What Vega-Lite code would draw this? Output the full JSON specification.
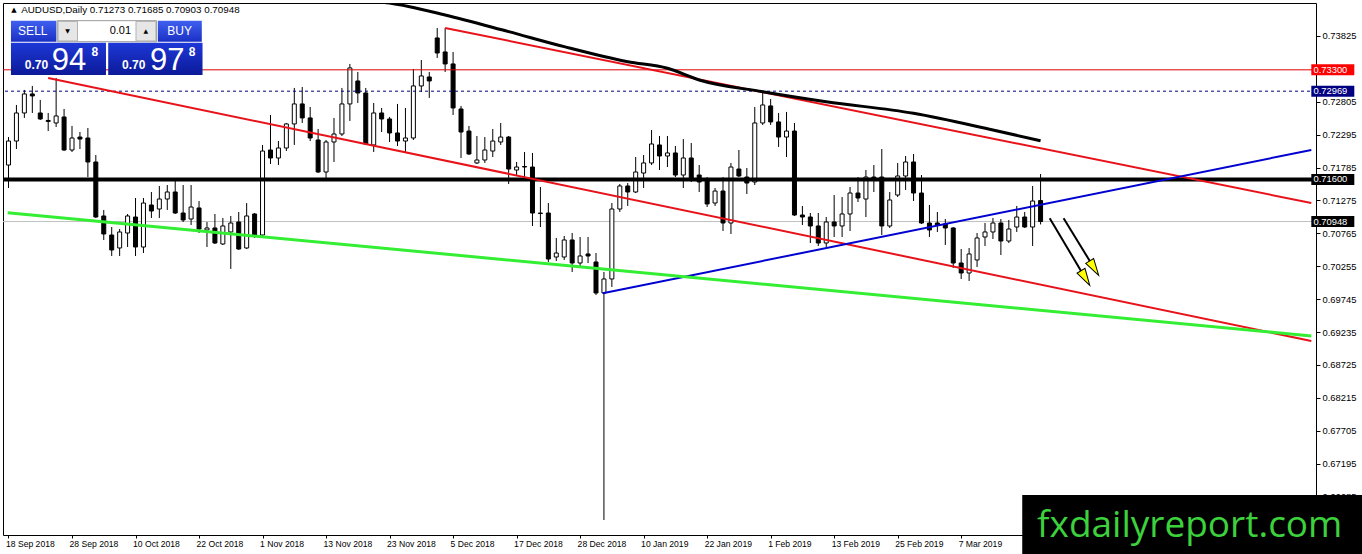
{
  "$schema": "https://vega.github.io/schema/vega-lite/v6.json",
  "description": "AUDUSD daily candles with trend lines, MT4 style",
  "width": 1313,
  "height": 532,
  "autosize": {"type": "none"},
  "padding": {"left": 3, "top": 3, "right": 46, "bottom": 19},
  "background": "white",
  "config": {"view": {"stroke": "black", "strokeWidth": 1}},
  "datasets": {
    "candles": [
      {"i":0,"o":0.71824,"h":0.72258,"l":0.71468,"c":0.72196},
      {"i":1,"o":0.72196,"h":0.72755,"l":0.72072,"c":0.72631},
      {"i":2,"o":0.72631,"h":0.72988,"l":0.72554,"c":0.72926},
      {"i":3,"o":0.72926,"h":0.73050,"l":0.72631,"c":0.72895},
      {"i":4,"o":0.72631,"h":0.72833,"l":0.72523,"c":0.72538},
      {"i":5,"o":0.72515,"h":0.72631,"l":0.72351,"c":0.72500},
      {"i":6,"o":0.72476,"h":0.73174,"l":0.72414,"c":0.72585},
      {"i":7,"o":0.72569,"h":0.72693,"l":0.72041,"c":0.72057},
      {"i":8,"o":0.72057,"h":0.72430,"l":0.72026,"c":0.72243},
      {"i":9,"o":0.72258,"h":0.72336,"l":0.72072,"c":0.72227},
      {"i":10,"o":0.72243,"h":0.72398,"l":0.71638,"c":0.71871},
      {"i":11,"o":0.71871,"h":0.71979,"l":0.71003,"c":0.71018},
      {"i":12,"o":0.71034,"h":0.71127,"l":0.70662,"c":0.70755},
      {"i":13,"o":0.70739,"h":0.70863,"l":0.70414,"c":0.70507},
      {"i":14,"o":0.70538,"h":0.70832,"l":0.70414,"c":0.70786},
      {"i":15,"o":0.70770,"h":0.71065,"l":0.70553,"c":0.71034},
      {"i":16,"o":0.71018,"h":0.71313,"l":0.70414,"c":0.70553},
      {"i":17,"o":0.70553,"h":0.71313,"l":0.70460,"c":0.71235},
      {"i":18,"o":0.71204,"h":0.71406,"l":0.71003,"c":0.71111},
      {"i":19,"o":0.71142,"h":0.71499,"l":0.71003,"c":0.71297},
      {"i":20,"o":0.71297,"h":0.71514,"l":0.71127,"c":0.71406},
      {"i":21,"o":0.71406,"h":0.71592,"l":0.71065,"c":0.71080},
      {"i":22,"o":0.71080,"h":0.71514,"l":0.70941,"c":0.70972},
      {"i":23,"o":0.70987,"h":0.71514,"l":0.70894,"c":0.71173},
      {"i":24,"o":0.71158,"h":0.71266,"l":0.70770,"c":0.70832},
      {"i":25,"o":0.70817,"h":0.70941,"l":0.70553,"c":0.70848},
      {"i":26,"o":0.70848,"h":0.71065,"l":0.70600,"c":0.70615},
      {"i":27,"o":0.70600,"h":0.71003,"l":0.70584,"c":0.70879},
      {"i":28,"o":0.70786,"h":0.71034,"l":0.70213,"c":0.70925},
      {"i":29,"o":0.70941,"h":0.71096,"l":0.70507,"c":0.70522},
      {"i":30,"o":0.70538,"h":0.71235,"l":0.70522,"c":0.71034},
      {"i":31,"o":0.71065,"h":0.71080,"l":0.70693,"c":0.70739},
      {"i":32,"o":0.70739,"h":0.72135,"l":0.70708,"c":0.72041},
      {"i":33,"o":0.72057,"h":0.72600,"l":0.71840,"c":0.71933},
      {"i":34,"o":0.71933,"h":0.72196,"l":0.71824,"c":0.72088},
      {"i":35,"o":0.72088,"h":0.72476,"l":0.72041,"c":0.72461},
      {"i":36,"o":0.72461,"h":0.73019,"l":0.72135,"c":0.72771},
      {"i":37,"o":0.72771,"h":0.73034,"l":0.72476,"c":0.72554},
      {"i":38,"o":0.72554,"h":0.72724,"l":0.72196,"c":0.72243},
      {"i":39,"o":0.72212,"h":0.72383,"l":0.71700,"c":0.71716},
      {"i":40,"o":0.71716,"h":0.72212,"l":0.71607,"c":0.72181},
      {"i":41,"o":0.72181,"h":0.72554,"l":0.71871,"c":0.72305},
      {"i":42,"o":0.72305,"h":0.73019,"l":0.72274,"c":0.72771},
      {"i":43,"o":0.72771,"h":0.73391,"l":0.72507,"c":0.73329},
      {"i":44,"o":0.73127,"h":0.73267,"l":0.72786,"c":0.72941},
      {"i":45,"o":0.72941,"h":0.73019,"l":0.72135,"c":0.72150},
      {"i":46,"o":0.72135,"h":0.72786,"l":0.72026,"c":0.72631},
      {"i":47,"o":0.72631,"h":0.72709,"l":0.72336,"c":0.72538},
      {"i":48,"o":0.72538,"h":0.72569,"l":0.72181,"c":0.72321},
      {"i":49,"o":0.72321,"h":0.72771,"l":0.72119,"c":0.72196},
      {"i":50,"o":0.72196,"h":0.72709,"l":0.72011,"c":0.72243},
      {"i":51,"o":0.72243,"h":0.73313,"l":0.72212,"c":0.73050},
      {"i":52,"o":0.73050,"h":0.73453,"l":0.72957,"c":0.73205},
      {"i":53,"o":0.73189,"h":0.73267,"l":0.72864,"c":0.73127},
      {"i":54,"o":0.73794,"h":0.73949,"l":0.73484,"c":0.73561},
      {"i":55,"o":0.73577,"h":0.73949,"l":0.73267,"c":0.73391},
      {"i":56,"o":0.73391,"h":0.73577,"l":0.72600,"c":0.72709},
      {"i":57,"o":0.72693,"h":0.72740,"l":0.71933,"c":0.72336},
      {"i":58,"o":0.72351,"h":0.72430,"l":0.71979,"c":0.71995},
      {"i":59,"o":0.71856,"h":0.72274,"l":0.71840,"c":0.71902},
      {"i":60,"o":0.71902,"h":0.72258,"l":0.71856,"c":0.72057},
      {"i":61,"o":0.72041,"h":0.72383,"l":0.71948,"c":0.72196},
      {"i":62,"o":0.72181,"h":0.72476,"l":0.72135,"c":0.72258},
      {"i":63,"o":0.72258,"h":0.72274,"l":0.71530,"c":0.71762},
      {"i":64,"o":0.71747,"h":0.71871,"l":0.71669,"c":0.71793},
      {"i":65,"o":0.71801,"h":0.72026,"l":0.71638,"c":0.71793},
      {"i":66,"o":0.71793,"h":0.72011,"l":0.70879,"c":0.71080},
      {"i":67,"o":0.71080,"h":0.71483,"l":0.70863,"c":0.71072},
      {"i":68,"o":0.71080,"h":0.71235,"l":0.70321,"c":0.70367},
      {"i":69,"o":0.70398,"h":0.70693,"l":0.70336,"c":0.70460},
      {"i":70,"o":0.70398,"h":0.70724,"l":0.70352,"c":0.70662},
      {"i":71,"o":0.70662,"h":0.70770,"l":0.70166,"c":0.70305},
      {"i":72,"o":0.70305,"h":0.70708,"l":0.70243,"c":0.70414},
      {"i":73,"o":0.70445,"h":0.70708,"l":0.70305,"c":0.70414},
      {"i":74,"o":0.70321,"h":0.70460,"l":0.69809,"c":0.69840},
      {"i":75,"o":0.69840,"h":0.70166,"l":0.66321,"c":0.70057},
      {"i":76,"o":0.70057,"h":0.71235,"l":0.69933,"c":0.71142},
      {"i":77,"o":0.71142,"h":0.71530,"l":0.71096,"c":0.71499},
      {"i":78,"o":0.71499,"h":0.71545,"l":0.71189,"c":0.71406},
      {"i":79,"o":0.71406,"h":0.71948,"l":0.71390,"c":0.71716},
      {"i":80,"o":0.71700,"h":0.71979,"l":0.71468,"c":0.71856},
      {"i":81,"o":0.71856,"h":0.72367,"l":0.71824,"c":0.72150},
      {"i":82,"o":0.72135,"h":0.72274,"l":0.71747,"c":0.71964},
      {"i":83,"o":0.71964,"h":0.72274,"l":0.71793,"c":0.72011},
      {"i":84,"o":0.72011,"h":0.72119,"l":0.71638,"c":0.71669},
      {"i":85,"o":0.71669,"h":0.72227,"l":0.71468,"c":0.71933},
      {"i":86,"o":0.71933,"h":0.72166,"l":0.71561,"c":0.71607},
      {"i":87,"o":0.71669,"h":0.71824,"l":0.71406,"c":0.71561},
      {"i":88,"o":0.71592,"h":0.71638,"l":0.71173,"c":0.71220},
      {"i":89,"o":0.71235,"h":0.71468,"l":0.71189,"c":0.71421},
      {"i":90,"o":0.71421,"h":0.71638,"l":0.70801,"c":0.70925},
      {"i":91,"o":0.70925,"h":0.71856,"l":0.70755,"c":0.71793},
      {"i":92,"o":0.71762,"h":0.72057,"l":0.71638,"c":0.71654},
      {"i":93,"o":0.71638,"h":0.71778,"l":0.71375,"c":0.71545},
      {"i":94,"o":0.71561,"h":0.72724,"l":0.71514,"c":0.72476},
      {"i":95,"o":0.72476,"h":0.72941,"l":0.72445,"c":0.72755},
      {"i":96,"o":0.72740,"h":0.72848,"l":0.72445,"c":0.72492},
      {"i":97,"o":0.72492,"h":0.72631,"l":0.72104,"c":0.72258},
      {"i":98,"o":0.72258,"h":0.72647,"l":0.71948,"c":0.72351},
      {"i":99,"o":0.72351,"h":0.72476,"l":0.71034,"c":0.71049},
      {"i":100,"o":0.71049,"h":0.71189,"l":0.70894,"c":0.71018},
      {"i":101,"o":0.71018,"h":0.71080,"l":0.70615,"c":0.70879},
      {"i":102,"o":0.70879,"h":0.71080,"l":0.70569,"c":0.70615},
      {"i":103,"o":0.70615,"h":0.71018,"l":0.70553,"c":0.70941},
      {"i":104,"o":0.70941,"h":0.71359,"l":0.70708,"c":0.70879},
      {"i":105,"o":0.70879,"h":0.71328,"l":0.70708,"c":0.71065},
      {"i":106,"o":0.71065,"h":0.71483,"l":0.70801,"c":0.71390},
      {"i":107,"o":0.71390,"h":0.71638,"l":0.71251,"c":0.71313},
      {"i":108,"o":0.71297,"h":0.71747,"l":0.71018,"c":0.71638},
      {"i":109,"o":0.71638,"h":0.71824,"l":0.71406,"c":0.71607},
      {"i":110,"o":0.71638,"h":0.72072,"l":0.70739,"c":0.70879},
      {"i":111,"o":0.70879,"h":0.71406,"l":0.70848,"c":0.71282},
      {"i":112,"o":0.71359,"h":0.71856,"l":0.71328,"c":0.71654},
      {"i":113,"o":0.71654,"h":0.71964,"l":0.71437,"c":0.71871},
      {"i":114,"o":0.71871,"h":0.71995,"l":0.71266,"c":0.71390},
      {"i":115,"o":0.71390,"h":0.71669,"l":0.70910,"c":0.70925},
      {"i":116,"o":0.70925,"h":0.71204,"l":0.70708,"c":0.70817},
      {"i":117,"o":0.70925,"h":0.71096,"l":0.70786,"c":0.70894},
      {"i":118,"o":0.70910,"h":0.70987,"l":0.70584,"c":0.70848},
      {"i":119,"o":0.70848,"h":0.70863,"l":0.70228,"c":0.70305},
      {"i":120,"o":0.70305,"h":0.70522,"l":0.70057,"c":0.70150},
      {"i":121,"o":0.70150,"h":0.70538,"l":0.70026,"c":0.70445},
      {"i":122,"o":0.70352,"h":0.70770,"l":0.70243,"c":0.70693},
      {"i":123,"o":0.70708,"h":0.70925,"l":0.70569,"c":0.70786},
      {"i":124,"o":0.70786,"h":0.71003,"l":0.70677,"c":0.70925},
      {"i":125,"o":0.70925,"h":0.70987,"l":0.70429,"c":0.70646},
      {"i":126,"o":0.70646,"h":0.70972,"l":0.70615,"c":0.70832},
      {"i":127,"o":0.70863,"h":0.71189,"l":0.70786,"c":0.71018},
      {"i":128,"o":0.71018,"h":0.71096,"l":0.70848,"c":0.70863},
      {"i":129,"o":0.70863,"h":0.71499,"l":0.70569,"c":0.71266},
      {"i":130,"o":0.71273,"h":0.71685,"l":0.70903,"c":0.70948}
    ],
    "redLines": [
      {"g": "upper", "i": 55, "p": 0.73949},
      {"g": "upper", "i": 164.1, "p": 0.71235},
      {"g": "lower", "i": 5, "p": 0.73174},
      {"g": "lower", "i": 164.1, "p": 0.69096}
    ],
    "blueLine": [
      {"i": 74.85, "p": 0.69836},
      {"i": 164.1, "p": 0.72057}
    ],
    "greenLine": [
      {"i": -0.1, "p": 0.71085},
      {"i": 164.1, "p": 0.69174}
    ],
    "ma": [
      {"i": 44, "p": 0.74422},
      {"i": 46, "p": 0.74367},
      {"i": 48, "p": 0.74336},
      {"i": 55, "p": 0.74150},
      {"i": 63, "p": 0.73892},
      {"i": 70, "p": 0.73659},
      {"i": 78, "p": 0.73426},
      {"i": 83, "p": 0.73324},
      {"i": 87, "p": 0.73143},
      {"i": 95, "p": 0.72961},
      {"i": 103, "p": 0.72806},
      {"i": 114, "p": 0.72626},
      {"i": 124, "p": 0.72367},
      {"i": 130, "p": 0.72201}
    ],
    "arrows": [
      {"a": 1, "i": 131.15, "p": 0.70999},
      {"a": 1, "i": 135.38, "p": 0.70124},
      {"a": 2, "i": 132.9, "p": 0.70999},
      {"a": 2, "i": 136.49, "p": 0.70278}
    ],
    "tags": [
      {"p": 0.733, "label": "0.73300", "line": "red"},
      {"p": 0.72969, "label": "0.72969", "line": "blue"},
      {"p": 0.716, "label": "0.71600", "line": "black"},
      {"p": 0.70948, "label": "0.70948", "line": "bid"}
    ]
  },
  "layer": [
    {
      "data": {"values": [{}]},
      "mark": {"type": "rule", "color": "#c0c0c0", "strokeWidth": 1},
      "encoding": {"y": {"datum": 0.70948}}
    },
    {
      "data": {"name": "candles"},
      "mark": {"type": "rule", "color": "black", "strokeWidth": 1, "clip": true},
      "encoding": {
        "x": {
          "field": "i", "type": "quantitative",
          "scale": {"domain": [-0.0625, 164.0625], "nice": false, "zero": false},
          "axis": {
            "title": null, "orient": "bottom", "grid": false, "domain": false,
            "values": [0, 8, 16, 24, 32, 40, 48, 56, 64, 72, 80, 88, 96, 104, 112, 120],
            "labelExpr": "['18 Sep 2018','28 Sep 2018','10 Oct 2018','22 Oct 2018','1 Nov 2018','13 Nov 2018','23 Nov 2018','5 Dec 2018','17 Dec 2018','28 Dec 2018','10 Jan 2019','22 Jan 2019','1 Feb 2019','13 Feb 2019','25 Feb 2019','7 Mar 2019'][round(datum.value / 8)]",
            "labelAlign": "left", "labelBaseline": "top", "labelOffset": -3, "labelPadding": 1,
            "labelFont": "Liberation Sans", "labelFontSize": 8.6, "labelColor": "black",
            "labelOverlap": false, "labelFlush": false, "labelBound": false,
            "tickColor": "black", "tickSize": 3
          }
        },
        "y": {
          "field": "l", "type": "quantitative",
          "scale": {"domain": [0.66088, 0.74336], "nice": false, "zero": false},
          "axis": {
            "title": null, "orient": "right", "grid": false, "domain": false,
            "values": [0.73825, 0.72805, 0.72295, 0.71785, 0.71275, 0.70765, 0.70255, 0.69745, 0.69235, 0.68725, 0.68215, 0.67705, 0.67195, 0.66685],
            "format": ".5f", "labelFont": "Liberation Sans", "labelFontSize": 9.4, "labelColor": "black",
            "labelPadding": 2, "labelOverlap": false, "labelFlush": false, "labelBound": false,
            "tickColor": "black", "tickSize": 4
          }
        },
        "y2": {"field": "h"}
      }
    },
    {
      "data": {"name": "candles"},
      "mark": {"type": "bar", "width": 4, "stroke": "black", "strokeWidth": 1, "clip": true},
      "encoding": {
        "x": {"field": "i", "type": "quantitative"},
        "y": {"field": "o", "type": "quantitative"},
        "y2": {"field": "c"},
        "fill": {"condition": {"test": "datum.c > datum.o", "value": "white"}, "value": "black"}
      }
    },
    {
      "data": {"values": [{}]},
      "mark": {"type": "rule", "color": "#000080", "strokeWidth": 1, "strokeDash": [3, 3]},
      "encoding": {"y": {"datum": 0.72969}}
    },
    {
      "data": {"values": [{}]},
      "mark": {"type": "rule", "color": "#e00000", "strokeWidth": 1},
      "encoding": {"y": {"datum": 0.733}}
    },
    {
      "data": {"values": [{}]},
      "mark": {"type": "rule", "color": "black", "strokeWidth": 4},
      "encoding": {"y": {"datum": 0.716}}
    },
    {
      "data": {"name": "redLines"},
      "mark": {"type": "line", "color": "#e8121a", "strokeWidth": 2, "clip": true},
      "encoding": {
        "x": {"field": "i", "type": "quantitative"},
        "y": {"field": "p", "type": "quantitative"},
        "detail": {"field": "g"}
      }
    },
    {
      "data": {"name": "blueLine"},
      "mark": {"type": "line", "color": "#0000d0", "strokeWidth": 2, "clip": true},
      "encoding": {
        "x": {"field": "i", "type": "quantitative"},
        "y": {"field": "p", "type": "quantitative"}
      }
    },
    {
      "data": {"name": "greenLine"},
      "mark": {"type": "line", "color": "#33ee33", "strokeWidth": 3, "clip": true},
      "encoding": {
        "x": {"field": "i", "type": "quantitative"},
        "y": {"field": "p", "type": "quantitative"}
      }
    },
    {
      "data": {"name": "ma"},
      "mark": {"type": "line", "color": "black", "strokeWidth": 3, "interpolate": "monotone", "clip": true},
      "encoding": {
        "x": {"field": "i", "type": "quantitative"},
        "y": {"field": "p", "type": "quantitative"}
      }
    },
    {
      "data": {"name": "arrows"},
      "mark": {"type": "line", "color": "black", "strokeWidth": 2},
      "encoding": {
        "x": {"field": "i", "type": "quantitative"},
        "y": {"field": "p", "type": "quantitative"},
        "detail": {"field": "a"}
      }
    },
    {
      "data": {"values": [{}]},
      "mark": {"type": "point", "shape": "M -0.55 -1 L 0.55 -1 L 0 1 Z", "size": 290, "angle": 329, "filled": true, "fill": "#ffff00", "stroke": "black", "strokeWidth": 1, "opacity": 1},
      "encoding": {"x": {"datum": 135.64}, "y": {"datum": 0.70071}}
    },
    {
      "data": {"values": [{}]},
      "mark": {"type": "point", "shape": "M -0.55 -1 L 0.55 -1 L 0 1 Z", "size": 290, "angle": 328, "filled": true, "fill": "#ffff00", "stroke": "black", "strokeWidth": 1, "opacity": 1},
      "encoding": {"x": {"datum": 136.75}, "y": {"datum": 0.70225}}
    },
    {
      "data": {"name": "tags"},
      "mark": {"type": "tick", "orient": "horizontal", "size": 43, "thickness": 11, "opacity": 1},
      "encoding": {
        "x": {"datum": 166.81},
        "y": {"field": "p", "type": "quantitative"},
        "color": {
          "field": "line", "type": "nominal", "legend": null,
          "scale": {"domain": ["red", "blue", "black", "bid"], "range": ["#ff0000", "#000080", "#000000", "#000000"]}
        }
      }
    },
    {
      "data": {"name": "tags"},
      "mark": {"type": "text", "align": "left", "baseline": "middle", "font": "Liberation Sans", "fontSize": 9.4, "color": "white"},
      "encoding": {
        "x": {"datum": 164.37},
        "y": {"field": "p", "type": "quantitative"},
        "text": {"field": "label"}
      }
    },
    {
      "data": {"values": [{}]},
      "mark": {"type": "text", "align": "center", "baseline": "middle", "font": "DejaVu Sans", "fontSize": 7, "color": "black"},
      "encoding": {"x": {"datum": 0.69}, "y": {"datum": 0.74228}, "text": {"value": "▲"}}
    },
    {
      "data": {"values": [{}]},
      "mark": {"type": "text", "align": "left", "baseline": "middle", "font": "Liberation Sans", "fontSize": 9.8, "color": "black"},
      "encoding": {"x": {"datum": 1.6}, "y": {"datum": 0.74228}, "text": {"value": "AUDUSD,Daily 0.71273 0.71685 0.70903 0.70948"}}
    },
    {
      "data": {"values": [{}]},
      "mark": {"type": "rect", "fill": {"gradient": "linear", "x1": 0, "y1": 0, "x2": 0, "y2": 1, "stops": [{"offset": 0, "color": "#4060f0"}, {"offset": 1, "color": "#1a30c4"}]}},
      "encoding": {"x": {"datum": 0.31}, "x2": {"datum": 6.03}, "y": {"datum": 0.74062}, "y2": {"datum": 0.73736}}
    },
    {
      "data": {"values": [{}]},
      "mark": {"type": "rect", "fill": {"gradient": "linear", "x1": 0, "y1": 0, "x2": 0, "y2": 1, "stops": [{"offset": 0, "color": "#4060f0"}, {"offset": 1, "color": "#1a30c4"}]}},
      "encoding": {"x": {"datum": 18.81}, "x2": {"datum": 24.35}, "y": {"datum": 0.74062}, "y2": {"datum": 0.73736}}
    },
    {
      "data": {"values": [{}]},
      "mark": {"type": "rect", "fill": "white", "stroke": "#9a9a9a", "strokeWidth": 1},
      "encoding": {"x": {"datum": 6.15}, "x2": {"datum": 18.65}, "y": {"datum": 0.74062}, "y2": {"datum": 0.73736}}
    },
    {
      "data": {"values": [{}]},
      "mark": {"type": "rect", "fill": "#e6e6e6", "stroke": "#b4b4b4", "strokeWidth": 1},
      "encoding": {"x": {"datum": 6.25}, "x2": {"datum": 8.69}, "y": {"datum": 0.74050}, "y2": {"datum": 0.73748}}
    },
    {
      "data": {"values": [{}]},
      "mark": {"type": "rect", "fill": "#e6e6e6", "stroke": "#b4b4b4", "strokeWidth": 1},
      "encoding": {"x": {"datum": 16.06}, "x2": {"datum": 18.56}, "y": {"datum": 0.74050}, "y2": {"datum": 0.73748}}
    },
    {
      "data": {"values": [{}]},
      "mark": {"type": "rect", "fill": {"gradient": "linear", "x1": 0, "y1": 0, "x2": 0, "y2": 1, "stops": [{"offset": 0, "color": "#1e38d8"}, {"offset": 1, "color": "#0c1a98"}]}},
      "encoding": {"x": {"datum": 0.31}, "x2": {"datum": 12.28}, "y": {"datum": 0.73721}, "y2": {"datum": 0.73220}}
    },
    {
      "data": {"values": [{}]},
      "mark": {"type": "rect", "fill": {"gradient": "linear", "x1": 0, "y1": 0, "x2": 0, "y2": 1, "stops": [{"offset": 0, "color": "#1e38d8"}, {"offset": 1, "color": "#0c1a98"}]}},
      "encoding": {"x": {"datum": 12.56}, "x2": {"datum": 24.44}, "y": {"datum": 0.73721}, "y2": {"datum": 0.73220}}
    },
    {
      "data": {"values": [{}]},
      "mark": {"type": "text", "align": "center", "baseline": "middle", "font": "Liberation Sans", "fontSize": 12, "color": "white"},
      "encoding": {"x": {"datum": 3.06}, "y": {"datum": 0.73902}, "text": {"value": "SELL"}}
    },
    {
      "data": {"values": [{}]},
      "mark": {"type": "text", "align": "center", "baseline": "middle", "font": "Liberation Sans", "fontSize": 12, "color": "white"},
      "encoding": {"x": {"datum": 21.56}, "y": {"datum": 0.73902}, "text": {"value": "BUY"}}
    },
    {
      "data": {"values": [{}]},
      "mark": {"type": "text", "align": "center", "baseline": "middle", "font": "DejaVu Sans", "fontSize": 6, "color": "black"},
      "encoding": {"x": {"datum": 7.44}, "y": {"datum": 0.73902}, "text": {"value": "▼"}}
    },
    {
      "data": {"values": [{}]},
      "mark": {"type": "text", "align": "center", "baseline": "middle", "font": "DejaVu Sans", "fontSize": 6, "color": "black"},
      "encoding": {"x": {"datum": 17.31}, "y": {"datum": 0.73902}, "text": {"value": "▲"}}
    },
    {
      "data": {"values": [{}]},
      "mark": {"type": "text", "align": "right", "baseline": "middle", "font": "Liberation Sans", "fontSize": 11, "color": "black"},
      "encoding": {"x": {"datum": 15.44}, "y": {"datum": 0.73902}, "text": {"value": "0.01"}}
    },
    {
      "data": {"values": [{}]},
      "mark": {"type": "text", "align": "left", "baseline": "alphabetic", "font": "Liberation Sans", "fontSize": 12, "fontWeight": "bold", "color": "white"},
      "encoding": {"x": {"datum": 2.06}, "y": {"datum": 0.73313}, "text": {"value": "0.70"}}
    },
    {
      "data": {"values": [{}]},
      "mark": {"type": "text", "align": "left", "baseline": "alphabetic", "font": "Liberation Sans", "fontSize": 31, "color": "white"},
      "encoding": {"x": {"datum": 5.44}, "y": {"datum": 0.73298}, "text": {"value": "94"}}
    },
    {
      "data": {"values": [{}]},
      "mark": {"type": "text", "align": "left", "baseline": "alphabetic", "font": "Liberation Sans", "fontSize": 12, "fontWeight": "bold", "color": "white"},
      "encoding": {"x": {"datum": 10.44}, "y": {"datum": 0.73515}, "text": {"value": "8"}}
    },
    {
      "data": {"values": [{}]},
      "mark": {"type": "text", "align": "left", "baseline": "alphabetic", "font": "Liberation Sans", "fontSize": 12, "fontWeight": "bold", "color": "white"},
      "encoding": {"x": {"datum": 14.31}, "y": {"datum": 0.73313}, "text": {"value": "0.70"}}
    },
    {
      "data": {"values": [{}]},
      "mark": {"type": "text", "align": "left", "baseline": "alphabetic", "font": "Liberation Sans", "fontSize": 31, "color": "white"},
      "encoding": {"x": {"datum": 17.81}, "y": {"datum": 0.73298}, "text": {"value": "97"}}
    },
    {
      "data": {"values": [{}]},
      "mark": {"type": "text", "align": "left", "baseline": "alphabetic", "font": "Liberation Sans", "fontSize": 12, "fontWeight": "bold", "color": "white"},
      "encoding": {"x": {"datum": 22.69}, "y": {"datum": 0.73515}, "text": {"value": "8"}}
    },
    {
      "data": {"values": [{}]},
      "mark": {"type": "rect", "fill": "black"},
      "encoding": {"x": {"datum": 127.69}, "x2": {"datum": 170.5}, "y": {"datum": 0.66709}, "y2": {"datum": 0.65600}}
    },
    {
      "data": {"values": [{}]},
      "mark": {"type": "text", "align": "left", "baseline": "alphabetic", "font": "Open Sans", "fontSize": 37, "color": "#3dd13d"},
      "encoding": {"x": {"datum": 129.56}, "y": {"datum": 0.66057}, "text": {"value": "fxdailyreport.com"}}
    }
  ]
}
